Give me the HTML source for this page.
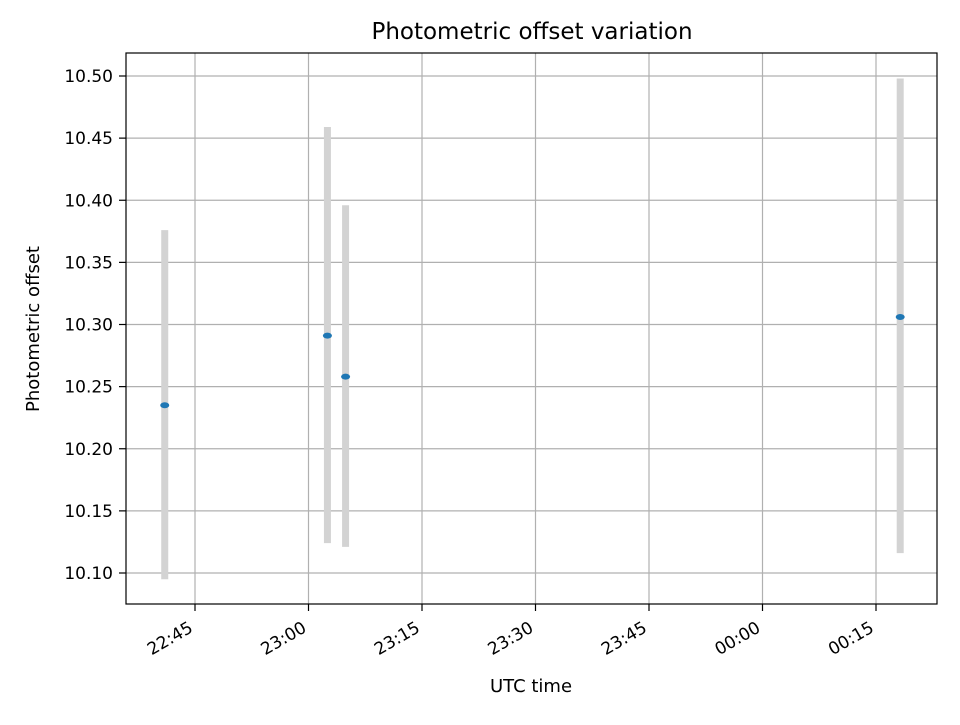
<!DOCTYPE html>
<html><head><meta charset="utf-8"><style>
body{margin:0;background:#fff;}
svg text{font-family:"DejaVu Sans","Liberation Sans",sans-serif;fill:#000;}
</style></head><body>
<svg id="chart" width="960" height="720" xmlns="http://www.w3.org/2000/svg">
<rect width="960" height="720" fill="#fff"/>
<text x="532" y="39" font-size="23" text-anchor="middle">Photometric offset variation</text>
<g id="grid"></g>
<g id="bars"></g>
<g id="pts"></g>
<rect x="126" y="53" width="811" height="551" fill="none" stroke="#000" stroke-width="1.2"/>
<g id="ticks"></g>
<text x="531" y="692" font-size="18" text-anchor="middle">UTC time</text>
<text transform="translate(39,329) rotate(-90)" font-size="18" text-anchor="middle">Photometric offset</text>
</svg>
<script>
// minutes since 22:00 UTC
const times = [41.0, 62.5, 64.9, 138.2];
const values = [10.235, 10.291, 10.258, 10.306];
const lows = [10.095, 10.124, 10.121, 10.116];
const highs = [10.376, 10.459, 10.396, 10.498];
const yTicks = [10.10, 10.15, 10.20, 10.25, 10.30, 10.35, 10.40, 10.45, 10.50];
const xTickMinutes = [45, 60, 75, 90, 105, 120, 135];
const xTickLabels = ["22:45", "23:00", "23:15", "23:30", "23:45", "00:00", "00:15"];

const NS = "http://www.w3.org/2000/svg";
const L = 126, R = 937, T = 53, B = 604;
const x = m => 195 + (m - 45) * 113.5 / 15;
const y = v => 573 - (v - 10.10) * 1242.5;
function mk(tag, attrs, parent) {
  const e = document.createElementNS(NS, tag);
  for (const k in attrs) e.setAttribute(k, attrs[k]);
  document.getElementById(parent).appendChild(e);
  return e;
}
yTicks.forEach(v => {
  const g = mk("line", {x1: L, x2: R, y1: y(v), y2: y(v), stroke: "#b0b0b0", "stroke-width": 1.2}, "grid");
  
  
  const t = mk("line", {x1: L - 7, x2: L, y1: y(v), y2: y(v), stroke: "#000", "stroke-width": 1.2}, "ticks");
  
  
  const lb = mk("text", {x: L - 13, y: y(v) + 6, "font-size": 17, "text-anchor": "end"}, "ticks");
  lb.textContent = v.toFixed(2);
  
  
});
xTickMinutes.forEach((m, i) => {
  const g = mk("line", {x1: x(m), x2: x(m), y1: T, y2: B, stroke: "#b0b0b0", "stroke-width": 1.2}, "grid");
  
  
  const t = mk("line", {x1: x(m), x2: x(m), y1: B, y2: B + 7, stroke: "#000", "stroke-width": 1.2}, "ticks");
  
  
  const ax = x(m) - 1, ay = B + 27;
  const lb = mk("text", {x: ax, y: ay, "font-size": 17, "text-anchor": "end", transform: `rotate(-30 ${ax} ${ay})`}, "ticks");
  lb.textContent = xTickLabels[i];
  
  
});
times.forEach((m, i) => {
  const b = mk("line", {x1: x(m), x2: x(m), y1: y(lows[i]), y2: y(highs[i]), stroke: "#d3d3d3", "stroke-width": 7}, "bars");
  
  
});
times.forEach((m, i) => {
  const p = mk("ellipse", {cx: x(m), cy: y(values[i]), rx: 4.5, ry: 3, fill: "#1f77b4"}, "pts");
  
  
});
</script>
</body></html>
